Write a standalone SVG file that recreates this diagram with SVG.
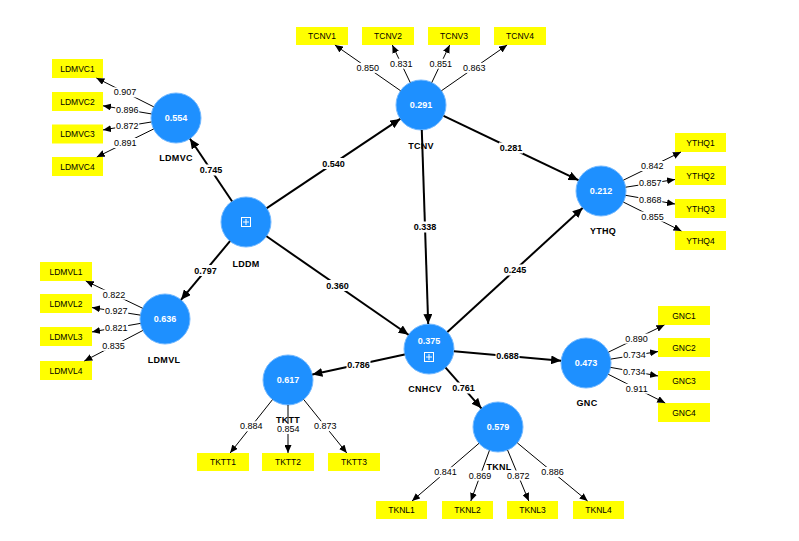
<svg xmlns="http://www.w3.org/2000/svg" width="799" height="541" viewBox="0 0 799 541">
<style>
.c{fill:#1E90FF;stroke:#73b9ff;stroke-width:1}
.v{font-family:"Liberation Sans",Arial,sans-serif;font-size:9px;font-weight:bold;fill:#ffffff;text-anchor:middle;dominant-baseline:central}
.n{font-family:"Liberation Sans",Arial,sans-serif;font-size:9px;font-weight:bold;fill:#000;text-anchor:middle;dominant-baseline:central;letter-spacing:0.3px}
.b{fill:#FFFF00}
.bt{font-family:"Liberation Sans",Arial,sans-serif;font-size:8.5px;fill:#000;text-anchor:middle;dominant-baseline:central}
.ld{stroke:#000;stroke-width:1;fill:none;marker-end:url(#as)}
.st{stroke:#000;stroke-width:2;fill:none;marker-end:url(#ah)}
.lb{fill:#fff}
.lt{font-family:"Liberation Sans",Arial,sans-serif;font-size:9px;fill:#000;text-anchor:middle;dominant-baseline:central}
.sl{font-family:"Liberation Sans",Arial,sans-serif;font-size:9px;font-weight:bold;fill:#000;text-anchor:middle;dominant-baseline:central}
.ic{fill:none;stroke:#fff;stroke-width:1}
</style>
<defs>
<marker id="ah" markerUnits="userSpaceOnUse" markerWidth="11" markerHeight="9" refX="10" refY="4.5" orient="auto"><path d="M0,0 L10,4.5 L0,9 z" fill="#000"/></marker>
<marker id="as" markerUnits="userSpaceOnUse" markerWidth="9" markerHeight="7" refX="8" refY="3.5" orient="auto"><path d="M0,0 L8,3.5 L0,7 z" fill="#000"/></marker>
</defs>
<rect width="799" height="541" fill="#fff"/>
<g id="nodes">
<g id="LDMVC"><circle class="c" cx="176" cy="118" r="25"/><text class="v" x="176" y="118">0.554</text><text class="n" x="176" y="158">LDMVC</text></g>
<g id="LDDM"><circle class="c" cx="246" cy="222" r="25"/><rect class="ic" x="241.5" y="217.5" width="9" height="9"/><path class="ic" d="M246,219 V225 M243,222 H249"/><text class="n" x="246" y="264">LDDM</text></g>
<g id="LDMVL"><circle class="c" cx="165" cy="319" r="25"/><text class="v" x="165" y="319">0.636</text><text class="n" x="164" y="360">LDMVL</text></g>
<g id="TCNV"><circle class="c" cx="421" cy="105" r="25"/><text class="v" x="421" y="105">0.291</text><text class="n" x="421" y="146">TCNV</text></g>
<g id="YTHQ"><circle class="c" cx="601" cy="191" r="25"/><text class="v" x="601" y="191">0.212</text><text class="n" x="603" y="231">YTHQ</text></g>
<g id="CNHCV"><circle class="c" cx="429" cy="349" r="25"/><text class="v" x="429" y="341">0.375</text><rect class="ic" x="424.5" y="352.5" width="9" height="9"/><path class="ic" d="M429,354 V360 M426,357 H432"/><text class="n" x="425" y="389">CNHCV</text></g>
<g id="GNC"><circle class="c" cx="586" cy="363" r="25"/><text class="v" x="586" y="363">0.473</text><text class="n" x="587" y="403">GNC</text></g>
<g id="TKTT"><circle class="c" cx="288" cy="380" r="25"/><text class="v" x="288" y="380">0.617</text><text class="n" x="288" y="420">TKTT</text></g>
<g id="TKNL"><circle class="c" cx="498" cy="427" r="25"/><text class="v" x="498" y="427">0.579</text><text class="n" x="499" y="467">TKNL</text></g>

<g id="LDMVC1"><rect class="b" x="52" y="59" width="51" height="19"/><text class="bt" x="77.5" y="68.5">LDMVC1</text></g>
<g id="LDMVC2"><rect class="b" x="52" y="92" width="51" height="19"/><text class="bt" x="77.5" y="101.5">LDMVC2</text></g>
<g id="LDMVC3"><rect class="b" x="52" y="124.5" width="51" height="19"/><text class="bt" x="77.5" y="134">LDMVC3</text></g>
<g id="LDMVC4"><rect class="b" x="52" y="157" width="51" height="19"/><text class="bt" x="77.5" y="166.5">LDMVC4</text></g>

<g id="LDMVL1"><rect class="b" x="40" y="262" width="52" height="19"/><text class="bt" x="66" y="271.5">LDMVL1</text></g>
<g id="LDMVL2"><rect class="b" x="40" y="294" width="52" height="19"/><text class="bt" x="66" y="303.5">LDMVL2</text></g>
<g id="LDMVL3"><rect class="b" x="40" y="327" width="52" height="19"/><text class="bt" x="66" y="336.5">LDMVL3</text></g>
<g id="LDMVL4"><rect class="b" x="40" y="361" width="52" height="19"/><text class="bt" x="66" y="370.5">LDMVL4</text></g>

<g id="TCNV1"><rect class="b" x="296" y="27" width="52" height="18"/><text class="bt" x="322" y="36">TCNV1</text></g>
<g id="TCNV2"><rect class="b" x="362" y="27" width="52" height="18"/><text class="bt" x="388" y="36">TCNV2</text></g>
<g id="TCNV3"><rect class="b" x="428" y="27" width="52" height="18"/><text class="bt" x="454" y="36">TCNV3</text></g>
<g id="TCNV4"><rect class="b" x="494" y="27" width="52" height="18"/><text class="bt" x="520" y="36">TCNV4</text></g>

<g id="YTHQ1"><rect class="b" x="675" y="133" width="51" height="19"/><text class="bt" x="700.5" y="142.5">YTHQ1</text></g>
<g id="YTHQ2"><rect class="b" x="675" y="166" width="51" height="19"/><text class="bt" x="700.5" y="175.5">YTHQ2</text></g>
<g id="YTHQ3"><rect class="b" x="675" y="199" width="51" height="19"/><text class="bt" x="700.5" y="208.5">YTHQ3</text></g>
<g id="YTHQ4"><rect class="b" x="675" y="231" width="51" height="19"/><text class="bt" x="700.5" y="240.5">YTHQ4</text></g>

<g id="GNC1"><rect class="b" x="658" y="306" width="52" height="19"/><text class="bt" x="684" y="315.5">GNC1</text></g>
<g id="GNC2"><rect class="b" x="658" y="338" width="52" height="19"/><text class="bt" x="684" y="347.5">GNC2</text></g>
<g id="GNC3"><rect class="b" x="658" y="371" width="52" height="19"/><text class="bt" x="684" y="380.5">GNC3</text></g>
<g id="GNC4"><rect class="b" x="658" y="403" width="52" height="19"/><text class="bt" x="684" y="412.5">GNC4</text></g>

<g id="TKTT1"><rect class="b" x="197" y="453" width="52" height="18"/><text class="bt" x="223" y="462">TKTT1</text></g>
<g id="TKTT2"><rect class="b" x="262" y="453" width="52" height="18"/><text class="bt" x="288" y="462">TKTT2</text></g>
<g id="TKTT3"><rect class="b" x="328" y="453" width="52" height="18"/><text class="bt" x="354" y="462">TKTT3</text></g>

<g id="TKNL1"><rect class="b" x="376" y="501" width="51" height="18"/><text class="bt" x="401.5" y="510">TKNL1</text></g>
<g id="TKNL2"><rect class="b" x="442" y="501" width="51" height="18"/><text class="bt" x="467.5" y="510">TKNL2</text></g>
<g id="TKNL3"><rect class="b" x="507" y="501" width="51" height="18"/><text class="bt" x="532.5" y="510">TKNL3</text></g>
<g id="TKNL4"><rect class="b" x="573" y="501" width="51" height="18"/><text class="bt" x="598.5" y="510">TKNL4</text></g>
</g>

<g id="connectors">
<!-- loadings -->
<line class="ld" x1="153.7" y1="106.8" x2="96.4" y2="78"/>
<line class="ld" x1="151.3" y1="113.9" x2="103" y2="105.8"/>
<line class="ld" x1="151.3" y1="122" x2="103" y2="129.9"/>
<line class="ld" x1="153.6" y1="129" x2="96.8" y2="157"/>
<line class="ld" x1="142.5" y1="308.2" x2="85.8" y2="281"/>
<line class="ld" x1="140.3" y1="315.1" x2="92" y2="307.6"/>
<line class="ld" x1="140.4" y1="323.4" x2="92" y2="331.9"/>
<line class="ld" x1="142.8" y1="330.5" x2="84.3" y2="361"/>
<line class="ld" x1="400.5" y1="90.7" x2="334.9" y2="45"/>
<line class="ld" x1="410.2" y1="82.5" x2="392.3" y2="45"/>
<line class="ld" x1="431.8" y1="82.5" x2="449.7" y2="45"/>
<line class="ld" x1="441.5" y1="90.7" x2="507.1" y2="45"/>
<line class="ld" x1="623.5" y1="180.1" x2="681" y2="152"/>
<line class="ld" x1="625.7" y1="187.2" x2="675" y2="179.5"/>
<line class="ld" x1="625.6" y1="195.3" x2="675" y2="204"/>
<line class="ld" x1="623.4" y1="202.1" x2="681.4" y2="231"/>
<line class="ld" x1="608.5" y1="352.1" x2="664.4" y2="325"/>
<line class="ld" x1="610.7" y1="359.1" x2="658" y2="351.6"/>
<line class="ld" x1="610.6" y1="367.4" x2="658" y2="375.9"/>
<line class="ld" x1="608.3" y1="374.3" x2="665.2" y2="403"/>
<line class="ld" x1="272.5" y1="399.6" x2="230.1" y2="453"/>
<line class="ld" x1="288" y1="405" x2="288" y2="453"/>
<line class="ld" x1="303.7" y1="399.5" x2="346.8" y2="453"/>
<line class="ld" x1="479" y1="443.3" x2="412" y2="501"/>
<line class="ld" x1="489.4" y1="450.5" x2="470.8" y2="501"/>
<line class="ld" x1="507.6" y1="450.1" x2="528.8" y2="501"/>
<line class="ld" x1="517.3" y1="442.9" x2="587.6" y2="501"/>
<!-- structural paths -->
<line class="st" x1="232" y1="201.3" x2="190" y2="138.7"/>
<line class="st" x1="230" y1="241.2" x2="181" y2="299.8"/>
<line class="st" x1="266.8" y1="208.1" x2="400.2" y2="118.9"/>
<line class="st" x1="266.5" y1="236.3" x2="408.5" y2="334.8"/>
<line class="st" x1="421.8" y1="130" x2="428.2" y2="324"/>
<line class="st" x1="443.6" y1="115.8" x2="578.4" y2="180.2"/>
<line class="st" x1="447.4" y1="332.1" x2="582.6" y2="207.9"/>
<line class="st" x1="453.9" y1="351.2" x2="561.1" y2="360.8"/>
<line class="st" x1="404.6" y1="354.4" x2="312.4" y2="374.6"/>
<line class="st" x1="445.6" y1="367.7" x2="481.4" y2="408.3"/>
<!-- loading labels -->
<g>
<rect class="lb" x="113" y="87.4" width="24" height="10"/><text class="lt" x="125" y="92.4">0.907</text>
<rect class="lb" x="115.2" y="104.8" width="24" height="10"/><text class="lt" x="127.2" y="109.8">0.896</text>
<rect class="lb" x="115.2" y="121" width="24" height="10"/><text class="lt" x="127.2" y="126">0.872</text>
<rect class="lb" x="113.2" y="138" width="24" height="10"/><text class="lt" x="125.2" y="143">0.891</text>
<rect class="lb" x="102.1" y="289.6" width="24" height="10"/><text class="lt" x="114.1" y="294.6">0.822</text>
<rect class="lb" x="104.2" y="306.4" width="24" height="10"/><text class="lt" x="116.2" y="311.4">0.927</text>
<rect class="lb" x="104.2" y="322.7" width="24" height="10"/><text class="lt" x="116.2" y="327.7">0.821</text>
<rect class="lb" x="101.6" y="340.8" width="24" height="10"/><text class="lt" x="113.6" y="345.8">0.835</text>
<rect class="lb" x="355.7" y="62.9" width="24" height="10"/><text class="lt" x="367.7" y="67.9">0.850</text>
<rect class="lb" x="389.3" y="58.7" width="24" height="10"/><text class="lt" x="401.3" y="63.7">0.831</text>
<rect class="lb" x="428.7" y="58.7" width="24" height="10"/><text class="lt" x="440.7" y="63.7">0.851</text>
<rect class="lb" x="462.3" y="62.9" width="24" height="10"/><text class="lt" x="474.3" y="67.9">0.863</text>
<rect class="lb" x="640.2" y="161" width="24" height="10"/><text class="lt" x="652.2" y="166">0.842</text>
<rect class="lb" x="638.3" y="178.3" width="24" height="10"/><text class="lt" x="650.3" y="183.3">0.857</text>
<rect class="lb" x="638.3" y="194.6" width="24" height="10"/><text class="lt" x="650.3" y="199.6">0.868</text>
<rect class="lb" x="640.4" y="211.6" width="24" height="10"/><text class="lt" x="652.4" y="216.6">0.855</text>
<rect class="lb" x="624.5" y="333.6" width="24" height="10"/><text class="lt" x="636.5" y="338.6">0.890</text>
<rect class="lb" x="622.4" y="350.4" width="24" height="10"/><text class="lt" x="634.4" y="355.4">0.734</text>
<rect class="lb" x="622.3" y="366.7" width="24" height="10"/><text class="lt" x="634.3" y="371.7">0.734</text>
<rect class="lb" x="624.8" y="383.7" width="24" height="10"/><text class="lt" x="636.8" y="388.7">0.911</text>
<rect class="lb" x="239.3" y="421.3" width="24" height="10"/><text class="lt" x="251.3" y="426.3">0.884</text>
<rect class="lb" x="276.3" y="424" width="24" height="10"/><text class="lt" x="288.3" y="429">0.854</text>
<rect class="lb" x="313.2" y="421.2" width="24" height="10"/><text class="lt" x="325.2" y="426.2">0.873</text>
<rect class="lb" x="433.5" y="467.2" width="24" height="10"/><text class="lt" x="445.5" y="472.2">0.841</text>
<rect class="lb" x="468.1" y="470.7" width="24" height="10"/><text class="lt" x="480.1" y="475.7">0.869</text>
<rect class="lb" x="506.2" y="470.5" width="24" height="10"/><text class="lt" x="518.2" y="475.5">0.872</text>
<rect class="lb" x="540.4" y="467" width="24" height="10"/><text class="lt" x="552.4" y="472">0.886</text>
</g>
<!-- path labels -->
<g>
<rect class="lb" x="199" y="164.5" width="24" height="11"/><text class="sl" x="211" y="170">0.745</text>
<rect class="lb" x="193.5" y="265" width="24" height="11"/><text class="sl" x="205.5" y="270.5">0.797</text>
<rect class="lb" x="321.5" y="158" width="24" height="11"/><text class="sl" x="333.5" y="163.5">0.540</text>
<rect class="lb" x="325.5" y="280" width="24" height="11"/><text class="sl" x="337.5" y="285.5">0.360</text>
<rect class="lb" x="413" y="221.5" width="24" height="11"/><text class="sl" x="425" y="227">0.338</text>
<rect class="lb" x="499" y="142.5" width="24" height="11"/><text class="sl" x="511" y="148">0.281</text>
<rect class="lb" x="503" y="264.5" width="24" height="11"/><text class="sl" x="515" y="270">0.245</text>
<rect class="lb" x="495.5" y="350.5" width="24" height="11"/><text class="sl" x="507.5" y="356">0.688</text>
<rect class="lb" x="346.5" y="359" width="24" height="11"/><text class="sl" x="358.5" y="364.5">0.786</text>
<rect class="lb" x="451.5" y="382.5" width="24" height="11"/><text class="sl" x="463.5" y="388">0.761</text>
</g>
</g>
</svg>
